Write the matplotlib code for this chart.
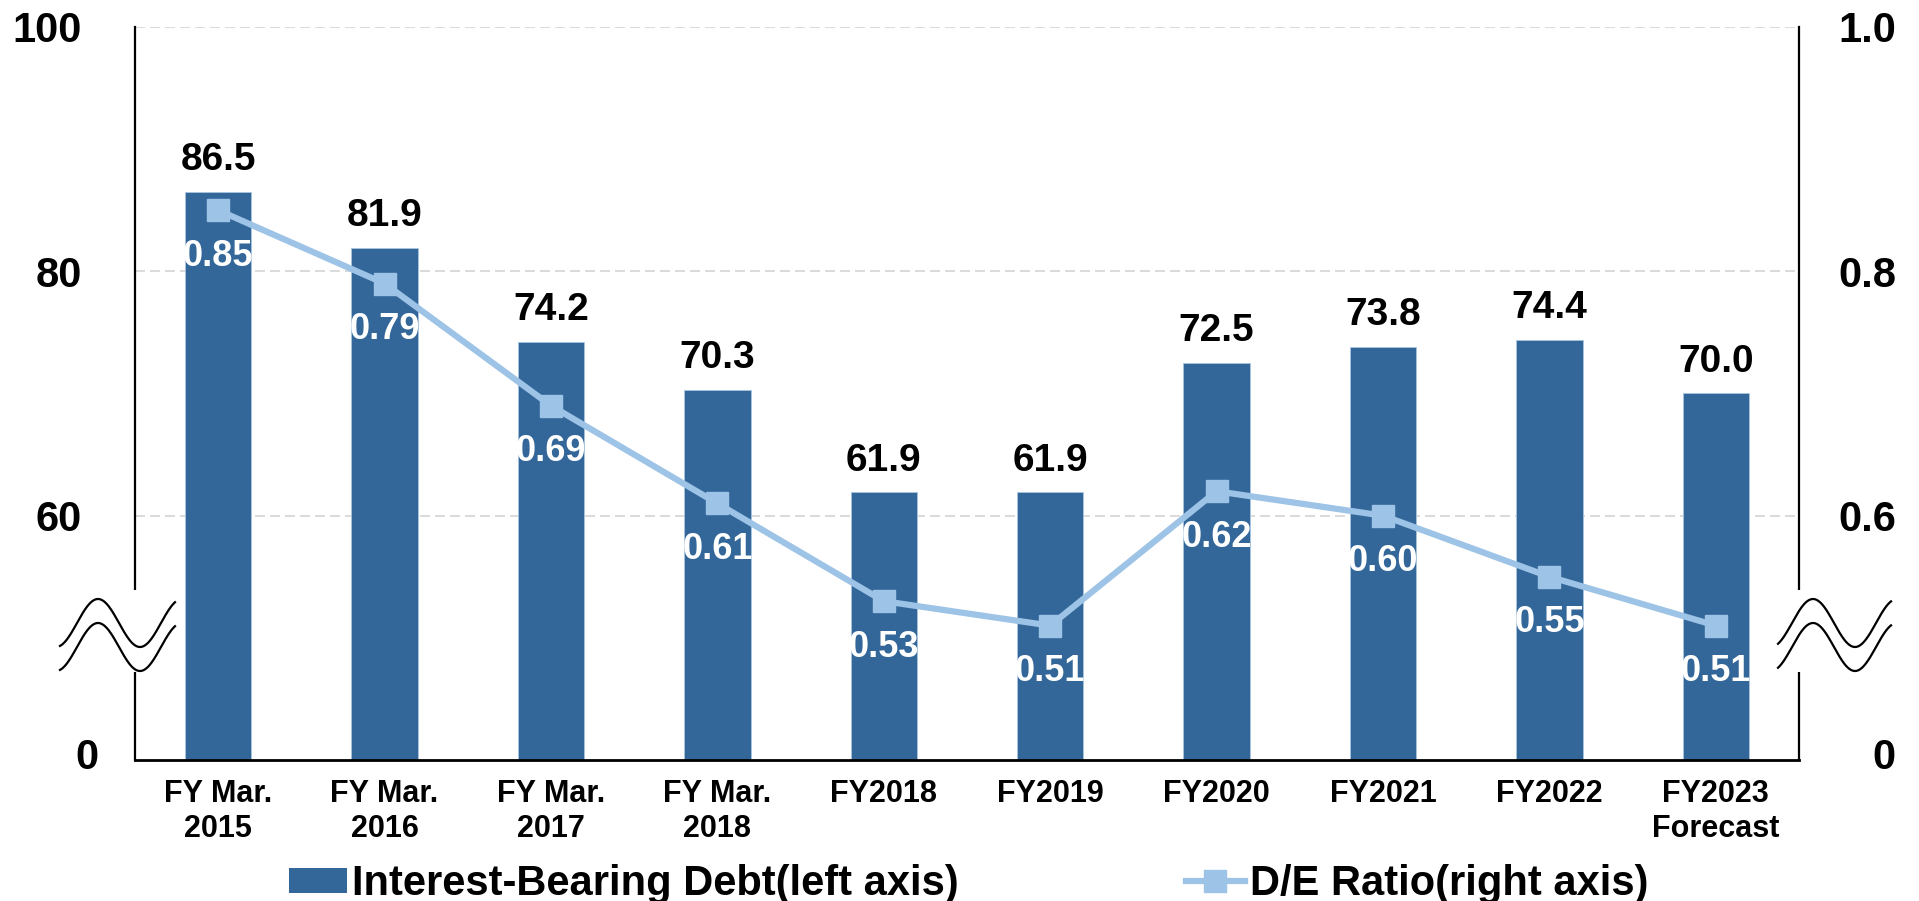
import matplotlib
matplotlib.use('Agg')
import matplotlib.pyplot as plt
from matplotlib.lines import Line2D
from matplotlib.patches import Patch, Rectangle
import numpy as np

plt.rcParams['font.family'] = ['Liberation Sans', 'DejaVu Sans']
plt.rcParams['font.weight'] = 'bold'

categories = ['FY Mar.\n2015', 'FY Mar.\n2016', 'FY Mar.\n2017', 'FY Mar.\n2018',
              'FY2018', 'FY2019', 'FY2020', 'FY2021', 'FY2022', 'FY2023\nForecast']
debt = [86.5, 81.9, 74.2, 70.3, 61.9, 61.9, 72.5, 73.8, 74.4, 70.0]
de_ratio = [0.85, 0.79, 0.69, 0.61, 0.53, 0.51, 0.62, 0.60, 0.55, 0.51]

left_ticks = [60, 80, 100]
left_labels = ['60', '80', '100']
right_ticks = [0.6, 0.8, 1.0]
right_labels = ['0.6', '0.8', '1.0']

bar_color = '#346799'
line_color = '#9DC3E6'

W, H = 1919, 901


def fx(x):
    return x / W


def fy(y):
    return 1 - y / H


fig = plt.figure(figsize=(W / 100, H / 100), dpi=100)
ax = fig.add_axes([fx(135), fy(760), (1799 - 135) / W, (760 - 27) / H])
ax2 = ax.twinx()

x = np.arange(len(categories))
bars = ax.bar(x, debt, width=0.4, color=bar_color, edgecolor='#a9c4e0', linewidth=0.6,
              label='Interest-Bearing Debt(left axis)', zorder=2)
ax.set_xlim(-0.5, len(categories) - 0.5)
# broken axis: the bottom of the plot stands for 0
ax.set_ylim(40, 100)
ax.set_yticks(left_ticks)
ax.set_yticklabels(left_labels, fontsize=30, fontweight='bold')
ax.set_xticks(x)
ax.set_xticklabels(categories, fontsize=22, fontweight='bold', linespacing=1.2)
ax.tick_params(axis='y', length=0, pad=38)
ax.tick_params(axis='x', length=0, pad=14)
for yv in left_ticks:
    ax.axhline(yv, color='#d4d4d4', lw=1.2, ls=(0, (6, 3)), zorder=1)

for sp in ['top', 'right', 'left']:
    ax.spines[sp].set_visible(False)
ax.spines['bottom'].set_linewidth(2)

for xi, v in zip(x, debt):
    ax.annotate(f'{v:.1f}', (xi, v), xytext=(0, 10), textcoords='offset points',
                ha='center', va='bottom', fontsize=28, fontweight='bold', color='black')

ax2.plot(x, de_ratio, color=line_color, lw=4.5, marker='s', markersize=15.5,
         label='D/E Ratio(right axis)', zorder=3)
ax2.set_ylim(0.4, 1.0)
ax2.set_yticks(right_ticks)
ax2.set_yticklabels(right_labels, fontsize=30, fontweight='bold')
ax2.tick_params(axis='y', length=0, pad=28)
for sp in ['top', 'bottom']:
    ax2.spines[sp].set_visible(False)
ax2.spines['left'].set_linewidth(1.6)
ax2.spines['right'].set_linewidth(1.6)

for xi, v in zip(x, de_ratio):
    ax2.annotate(f'{v:.2f}', (xi, v), xytext=(0, -33), textcoords='offset points',
                 ha='center', va='center', fontsize=26, fontweight='bold', color='white',
                 zorder=4)

# zero labels at the broken axis bottoms
fig.text(fx(87), fy(758), '0', ha='center', va='center', fontsize=30, fontweight='bold')
fig.text(fx(1884), fy(758), '0', ha='center', va='center', fontsize=30, fontweight='bold')

# axis break marks
for ax_x, x0, x1, peak in [(135, 60, 175, 98), (1799, 1778, 1891, 1813)]:
    fig.add_artist(Rectangle((fx(ax_x - 4), fy(672)), 8 / W, (672 - 590) / H,
                             transform=fig.transFigure, facecolor='white',
                             edgecolor='none', zorder=5))
    xs = np.linspace(x0, x1, 200)
    for yc in [623, 647]:
        ys = yc - 24 * np.cos(2 * np.pi * (xs - peak) / 84)
        fig.add_artist(Line2D(fx(xs), fy(ys), transform=fig.transFigure,
                              color='black', lw=1.6, zorder=6))

handles = [Patch(facecolor=bar_color, edgecolor='none'),
           Line2D([], [], color=line_color, lw=4.5, marker='s', markersize=15.5)]
labels = ['Interest-Bearing Debt(left axis)', 'D/E Ratio(right axis)']
fig.legend(handles, labels, loc='upper left', bbox_to_anchor=(fx(289), fy(864)),
           ncol=2, frameon=False, prop={'size': 30, 'weight': 'bold'},
           handlelength=1.4, handleheight=0.55, handletextpad=0.12,
           columnspacing=5.45, borderpad=0, borderaxespad=0)

fig.savefig('out.png', dpi=100)
